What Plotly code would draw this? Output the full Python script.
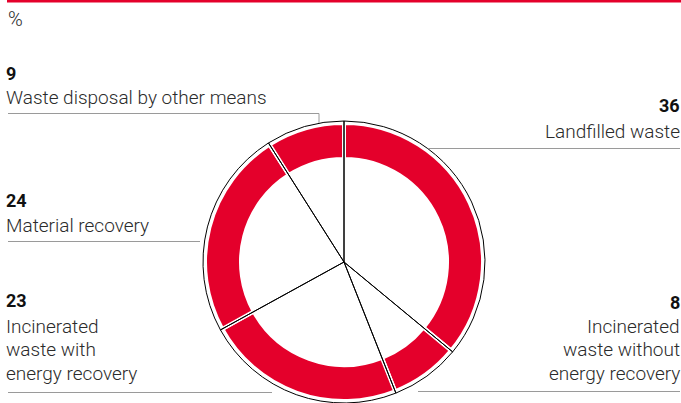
import plotly.graph_objects as go

# Waste treatment shares, %, clockwise from 12 o'clock
categories = [
    "Landfilled waste",
    "Incinerated waste without energy recovery",
    "Incinerated waste with energy recovery",
    "Material recovery",
    "Waste disposal by other means",
]
shares = [36, 8, 23, 24, 9]
label_lines = [
    ["Landfilled waste"],
    ["Incinerated", "waste without", "energy recovery"],
    ["Incinerated", "waste with", "energy recovery"],
    ["Material recovery"],
    ["Waste disposal by other means"],
]
unit_label = "%"

# ---- layout constants (pixels) ----
W, H = 681, 403
CX, CY = 344, 262          # donut centre, measured from the top-left
R_OUTLINE = 141            # thin black outline circle
R_RING_OUT = 137           # outer edge of the red ring
R_RING_IN = 105            # inner edge of the red ring
GAP = 4                    # white gap between ring segments
RED = "#E4002B"
TEXT = "#2b2b2b"
RULE = "#9a9a9a"
FONT = "Roboto"
LEFT_X = 4                 # annotation anchor for left labels (text starts ~3px in)
RIGHT_X = 682.5            # annotation anchor for right labels


def px(x):
    return x / W


def py(y):
    return 1 - y / H


def domain_for(r):
    return dict(x=[px(CX - r), px(CX + r)], y=[py(CY + r), py(CY - r)])


fig = go.Figure()

# red ring; the white slice borders open the gaps between segments
r_ring = R_RING_OUT + GAP / 2
fig.add_trace(go.Pie(
    labels=categories,
    values=shares,
    sort=False,
    direction="clockwise",
    rotation=0,
    hole=(R_RING_IN - GAP / 2) / r_ring,
    marker=dict(colors=[RED] * len(shares), line=dict(color="white", width=GAP)),
    textinfo="none",
    hoverinfo="label+value",
    domain=domain_for(r_ring),
    showlegend=False,
))

# full pie drawn only as outlines: radial dividers plus the outer circle
fig.add_trace(go.Pie(
    labels=categories,
    values=shares,
    sort=False,
    direction="clockwise",
    rotation=0,
    marker=dict(colors=["rgba(0,0,0,0)"] * len(shares), line=dict(color="black", width=1)),
    textinfo="none",
    hoverinfo="skip",
    domain=domain_for(R_OUTLINE),
    showlegend=False,
))

shapes = []
annotations = []


def rule(x0, y0, x1, y1):
    shapes.append(dict(type="line", xref="paper", yref="paper",
                       x0=px(x0), y0=py(y0), x1=px(x1), y1=py(y1),
                       line=dict(color=RULE, width=1)))


def label(x, y_num, y_first, lines, value, align):
    anchor = "left" if align == "left" else "right"
    annotations.append(dict(
        x=px(x), y=py(y_num), xref="paper", yref="paper",
        xanchor=anchor, yanchor="middle", showarrow=False,
        text=f"<b>{value}</b>", align=align,
        font=dict(family=FONT, size=18, color="#111111"),
    ))
    for i, line in enumerate(lines):
        annotations.append(dict(
            x=px(x), y=py(y_first + i * 23.5), xref="paper", yref="paper",
            xanchor=anchor, yanchor="middle", showarrow=False,
            text=line, align=align,
            font=dict(family=FONT, size=19, color=TEXT, weight=300),
        ))


# red rule across the top
shapes.append(dict(type="line", xref="paper", yref="paper",
                   x0=px(7), y0=py(1), x1=1, y1=py(1),
                   line=dict(color=RED, width=3)))

# unit
annotations.append(dict(x=px(6), y=py(19.5), xref="paper", yref="paper",
                        xanchor="left", yanchor="middle", showarrow=False,
                        text=unit_label,
                        font=dict(family=FONT, size=20, color=TEXT, weight=300)))

# labels and leader rules
label(RIGHT_X, 105, 131, label_lines[0], shares[0], "right")
rule(428, 148.5, 680, 148.5)

label(RIGHT_X, 302, 326, label_lines[1], shares[1], "right")
rule(418, 391.5, 680, 391.5)

label(LEFT_X, 300, 326, label_lines[2], shares[2], "left")
rule(8, 392.5, 272, 392.5)

label(LEFT_X, 201, 225, label_lines[3], shares[3], "left")
rule(8, 241.5, 200, 241.5)

label(LEFT_X, 74, 98, label_lines[4], shares[4], "left")
rule(8, 113.5, 319, 113.5)
rule(319, 113.5, 319, 123)

fig.update_layout(
    width=W, height=H,
    margin=dict(l=0, r=0, t=0, b=0),
    paper_bgcolor="white",
    plot_bgcolor="white",
    shapes=shapes,
    annotations=annotations,
)

fig.write_html("out.html")
